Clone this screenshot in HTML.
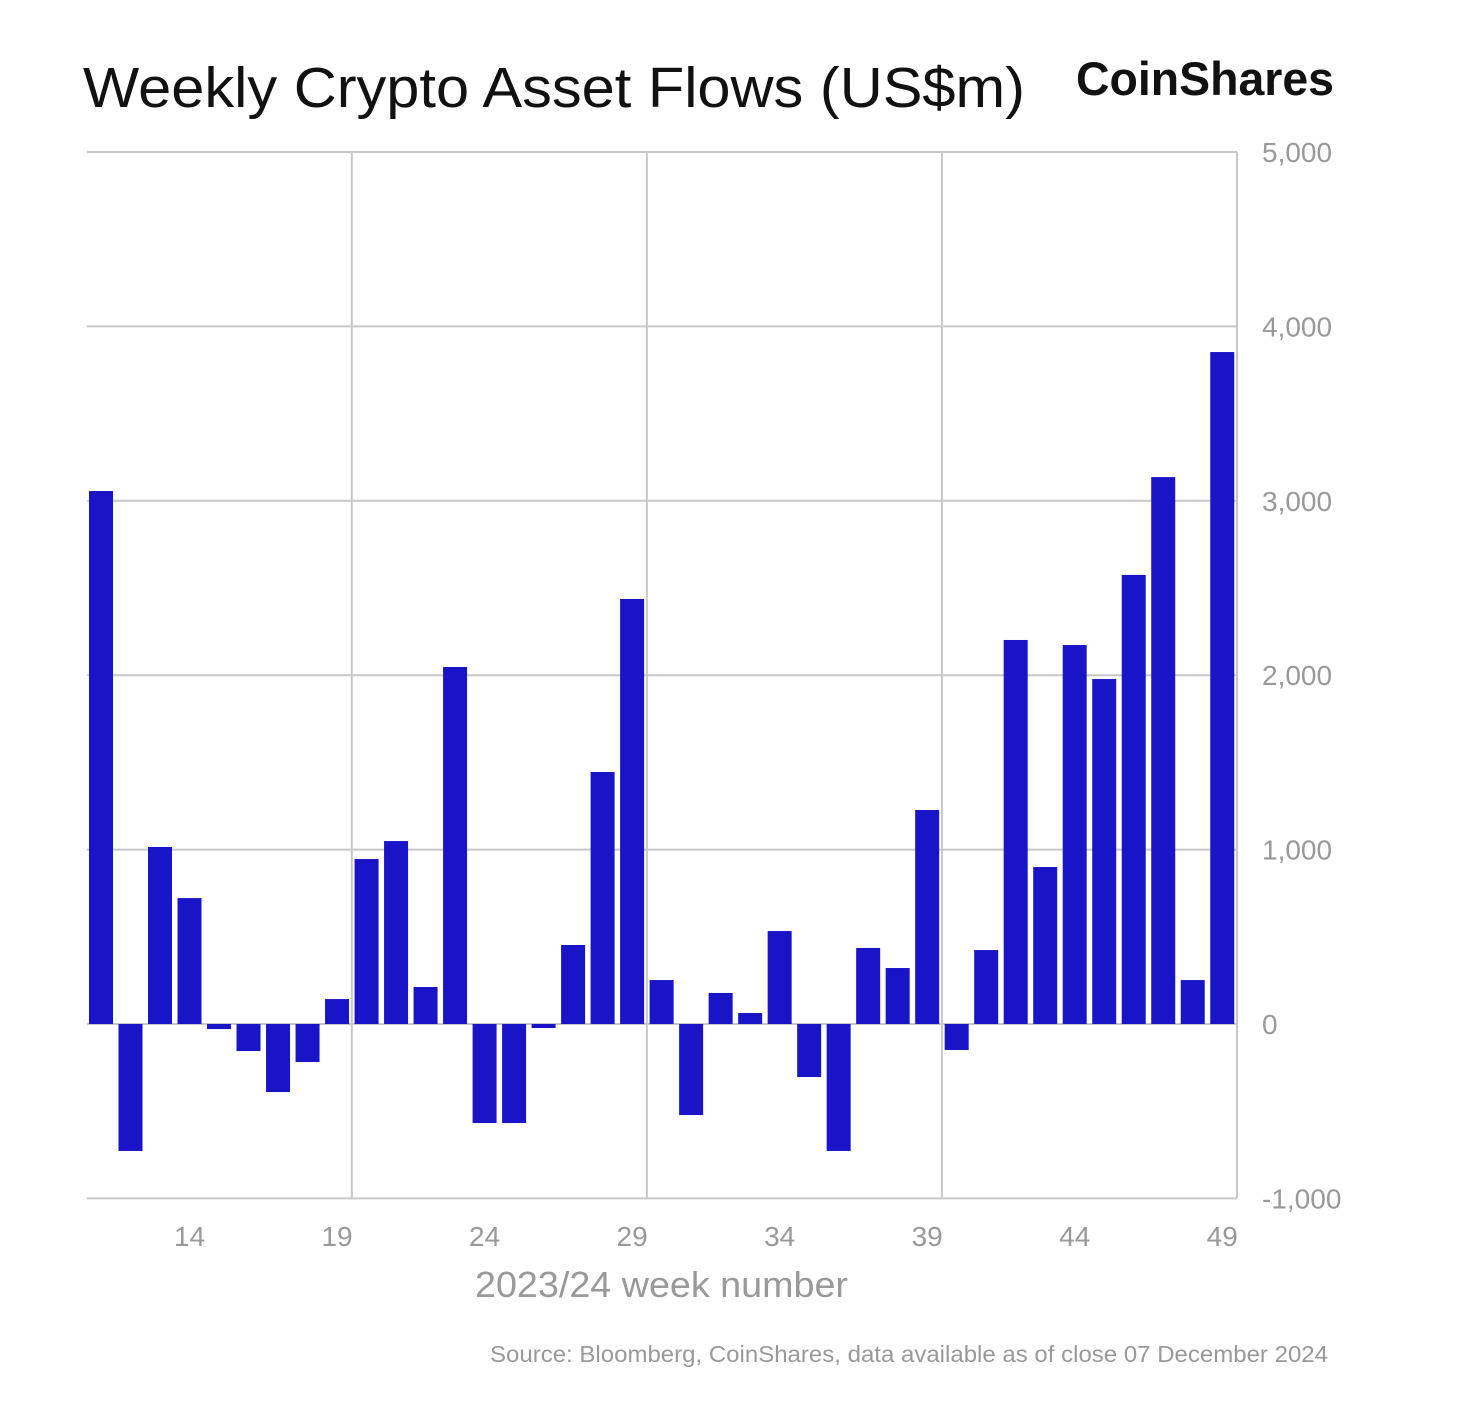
<!DOCTYPE html>
<html><head><meta charset="utf-8"><style>
html,body{margin:0;padding:0;background:#fff;}
svg{display:block;font-family:"Liberation Sans",Arial,sans-serif;}
</style></head><body>
<svg id="chart" width="1478" height="1422" viewBox="0 0 1478 1422">
<text x="83" y="107" font-size="57" fill="#111" textLength="942" lengthAdjust="spacingAndGlyphs">Weekly Crypto Asset Flows (US$m)</text>
<text x="1076" y="95" font-size="47" font-weight="bold" fill="#111" textLength="258" lengthAdjust="spacingAndGlyphs">CoinShares</text>
<g id="grid"></g>
<g id="bars"></g>
<g id="yticks"></g>
<g id="xticks"></g>
<text x="475" y="1297" font-size="36" fill="#999" textLength="373" lengthAdjust="spacingAndGlyphs">2023/24 week number</text>
<text x="490" y="1362" font-size="23" fill="#999" textLength="838" lengthAdjust="spacingAndGlyphs">Source: Bloomberg, CoinShares, data available as of close 07 December 2024</text>
</svg>
<script>
const weeks = [11,12,13,14,15,16,17,18,19,20,21,22,23,24,25,26,27,28,29,30,31,32,33,34,35,36,37,38,39,40,41,42,43,44,45,46,47,48,49];
const flows = [3056,-728,1015,722,-29,-155,-390,-218,143,946,1049,212,2047,-568,-568,-23,453,1445,2437,252,-522,178,63,533,-304,-728,436,321,1227,-149,424,2202,900,2173,1978,2575,3136,252,3853];
const yTicks = [-1000,0,1000,2000,3000,4000,5000];
const yTickLabels = ["-1,000","0","1,000","2,000","3,000","4,000","5,000"];
const xTickWeeks = [14,19,24,29,34,39,44,49];
const vGridAfterWeeks = [19,29,39,49];

const NS="http://www.w3.org/2000/svg";
const left=86.25, right=1237, step=(right-left)/weeks.length;
const y0=1024, pxPer=174.4/1000;
const y = v => y0 - v*pxPer;
const xBand = i => left + i*step;
const xCenter = w => xBand(weeks.indexOf(w)) + step/2;
function mk(tag, attrs, parent){const e=document.createElementNS(NS,tag);for(const k in attrs)e.setAttribute(k,attrs[k]);parent.appendChild(e);return e;}
const grid=document.getElementById('grid'), bars=document.getElementById('bars'), yt=document.getElementById('yticks'), xt=document.getElementById('xticks');
yTicks.forEach((v,i)=>{
  const l=mk('line',{x1:87,x2:1237,y1:y(v),y2:y(v),stroke:'#c8c8c8','stroke-width':2},grid);
  
  
  const t=mk('text',{x:1262,y:y(v)+10,'font-size':28,fill:'#999'},yt);
  t.textContent=yTickLabels[i];
  
  
});
vGridAfterWeeks.forEach(w=>{
  const x=xBand(weeks.indexOf(w))+step;
  const l=mk('line',{x1:x,x2:x,y1:y(5000),y2:y(-1000),stroke:'#c8c8c8','stroke-width':2},grid);
  
  
});
flows.forEach((v,i)=>{
  const top=Math.min(y(v),y0), h=Math.abs(y(v)-y0);
  const r=mk('rect',{x:xBand(i)+2.75,y:top,width:24,height:h,fill:'#1a14c8'},bars);
  
  
});
xTickWeeks.forEach(w=>{
  const t=mk('text',{x:xCenter(w),y:1246,'font-size':28,fill:'#999','text-anchor':'middle'},xt);
  t.textContent=w;
  
  
});
</script>
</body></html>
